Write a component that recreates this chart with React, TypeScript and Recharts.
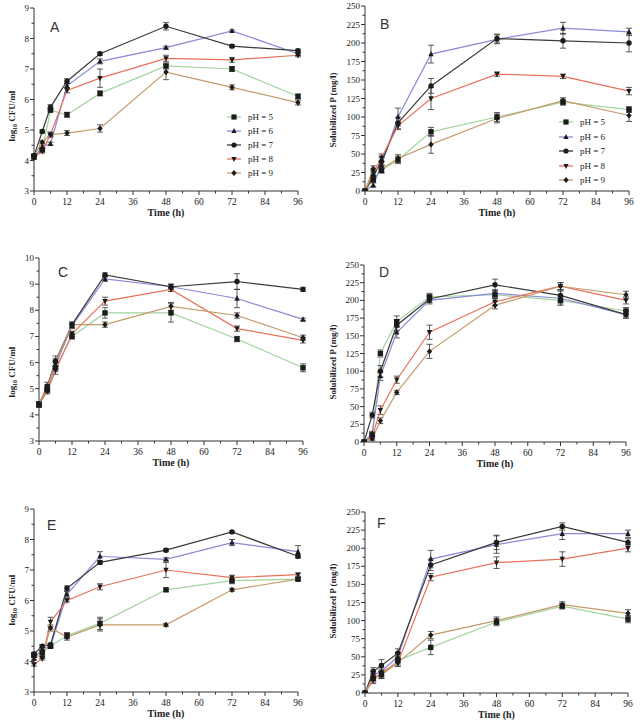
import React from 'react';
import { LineChart, Line, XAxis, YAxis, ErrorBar } from 'recharts';

// sampling times (h)
const hours = [0, 3, 6, 12, 24, 48, 72, 96];
const phLabels = ['pH = 5', 'pH = 6', 'pH = 7', 'pH = 8', 'pH = 9'];
const xTicks = [0, 6, 12, 18, 24, 30, 36, 42, 48, 54, 60, 66, 72, 78, 84, 90, 96];
const cfuTicks9 = [3, 3.5, 4, 4.5, 5, 5.5, 6, 6.5, 7, 7.5, 8, 8.5, 9];
const cfuTicks10 = [3, 3.5, 4, 4.5, 5, 5.5, 6, 6.5, 7, 7.5, 8, 8.5, 9, 9.5, 10];
const pTicks = [0, 12.5, 25, 37.5, 50, 62.5, 75, 87.5, 100, 112.5, 125, 137.5, 150, 162.5, 175, 187.5, 200, 212.5, 225, 237.5, 250];

// A - log10 CFU/ml
const a5 = [4.15, 4.35, 5.65, 5.5, 6.2, 7.1, 7.0, 6.1];
const a6 = [4.1, 4.45, 4.55, 6.45, 7.25, 7.7, 8.25, 7.5];
const a7 = [4.15, 4.95, 5.75, 6.6, 7.5, 8.4, 7.75, 7.6];
const a8 = [4.1, 4.3, 4.85, 6.3, 6.7, 7.35, 7.3, 7.45];
const a9 = [4.15, 4.6, 4.85, 4.9, 5.05, 6.9, 6.4, 5.9];
const ea5 = [0.05, 0.05, 0.05, 0.08, 0.08, 0.1, 0.08, 0.08];
const ea6 = [0.05, 0.05, 0.05, 0.08, 0.08, 0.05, 0.03, 0.05];
const ea7 = [0.05, 0.05, 0.08, 0.08, 0.05, 0.12, 0.05, 0.05];
const ea8 = [0.05, 0.05, 0.05, 0.08, 0.3, 0.1, 0.08, 0.05];
const ea9 = [0.05, 0.05, 0.08, 0.08, 0.12, 0.25, 0.08, 0.08];

// B - solubilized P (mg/l)
const b5 = [0, 15, 28, 42, 80, 100, 120, 110];
const b6 = [0, 8, 35, 100, 185, 205, 220, 215];
const b7 = [0, 20, 40, 92, 142, 206, 203, 200];
const b8 = [0, 25, 45, 88, 125, 158, 155, 135];
const b9 = [0, 30, 30, 44, 63, 98, 122, 102];
const eb5 = [0, 3, 4, 5, 6, 6, 4, 4];
const eb6 = [0, 3, 5, 12, 12, 6, 8, 5];
const eb7 = [0, 4, 5, 8, 10, 6, 10, 12];
const eb8 = [0, 4, 5, 5, 15, 3, 3, 5];
const eb9 = [0, 4, 5, 5, 12, 6, 4, 8];

// C - log10 CFU/ml
const c5 = [4.4, 4.95, 5.8, 7.0, 7.9, 7.9, 6.9, 5.8];
const c6 = [4.4, 5.0, 5.9, 7.4, 9.2, 8.9, 8.45, 7.65];
const c7 = [4.4, 5.1, 6.05, 7.45, 9.35, 8.9, 9.1, 8.8];
const c8 = [4.4, 4.9, 5.7, 7.1, 8.35, 8.8, 7.3, 6.85];
const c9 = [4.4, 5.05, 6.0, 7.45, 7.45, 8.15, 7.8, 6.95];
const ec5 = [0.1, 0.1, 0.15, 0.1, 0.2, 0.35, 0.1, 0.15];
const ec6 = [0.1, 0.1, 0.15, 0.1, 0.1, 0.1, 0.35, 0.05];
const ec7 = [0.1, 0.15, 0.2, 0.1, 0.08, 0.1, 0.3, 0.08];
const ec8 = [0.1, 0.1, 0.15, 0.1, 0.15, 0.08, 0.1, 0.1];
const ec9 = [0.1, 0.1, 0.15, 0.1, 0.1, 0.15, 0.1, 0.1];

// D - solubilized P (mg/l)
const d5 = [0, 10, 125, 170, 205, 208, 200, 185];
const d6 = [0, 12, 93, 155, 200, 210, 203, 180];
const d7 = [0, 38, 100, 165, 202, 222, 207, 180];
const d8 = [0, 8, 45, 88, 155, 198, 220, 200];
const d9 = [0, 5, 30, 70, 128, 193, 220, 208];
const ed5 = [0, 3, 5, 8, 5, 5, 5, 5];
const ed6 = [0, 3, 6, 8, 5, 5, 10, 5];
const ed7 = [0, 4, 8, 8, 5, 8, 8, 5];
const ed8 = [0, 4, 6, 5, 10, 5, 5, 5];
const ed9 = [0, 3, 4, 3, 10, 5, 5, 5];

// E - log10 CFU/ml
const e5 = [4.2, 4.3, 4.5, 4.85, 5.25, 6.35, 6.65, 6.7];
const e6 = [4.1, 4.4, 4.5, 6.2, 7.45, 7.35, 7.9, 7.6];
const e7 = [4.25, 4.5, 4.55, 6.4, 7.25, 7.65, 8.25, 7.45];
const e8 = [3.9, 4.1, 5.3, 6.0, 6.45, 7.0, 6.75, 6.85];
const e9 = [4.2, 4.15, 5.1, 4.8, 5.2, 5.2, 6.35, 6.7];
const ee5 = [0.05, 0.05, 0.05, 0.1, 0.2, 0.05, 0.1, 0.05];
const ee6 = [0.05, 0.05, 0.05, 0.1, 0.15, 0.05, 0.1, 0.2];
const ee7 = [0.05, 0.05, 0.05, 0.08, 0.05, 0.05, 0.03, 0.05];
const ee8 = [0.05, 0.05, 0.15, 0.05, 0.1, 0.25, 0.08, 0.05];
const ee9 = [0.05, 0.05, 0.1, 0.1, 0.2, 0.05, 0.05, 0.05];

// F - solubilized P (mg/l)
const f5 = [0, 20, 25, 45, 63, 98, 120, 102];
const f6 = [0, 25, 30, 50, 185, 205, 220, 220];
const f7 = [0, 30, 38, 55, 177, 208, 230, 208];
const f8 = [0, 18, 28, 42, 160, 180, 185, 200];
const f9 = [0, 22, 25, 42, 80, 100, 122, 110];
const ef5 = [0, 5, 5, 5, 10, 5, 4, 5];
const ef6 = [0, 5, 6, 6, 12, 12, 8, 5];
const ef7 = [0, 5, 8, 6, 8, 10, 5, 5];
const ef8 = [0, 5, 5, 5, 5, 8, 10, 5];
const ef9 = [0, 5, 5, 5, 5, 5, 4, 5];

const lineColors = ['#a3d49e', '#8a8ad8', '#3a3a3a', '#e8705a', '#c49a6a'];
const markerKinds = ['square', 'triangle', 'circle', 'down', 'diamond'];
const SERIF = '"Liberation Serif", "DejaVu Serif", serif';
const W = 322;
const H = 243;

function buildRows(series: number[][], errs: number[][]) {
  return hours.map((h, i) => {
    const row: any = { t: h };
    series.forEach((s, k) => {
      row['p' + k] = s[i];
      row['e' + k] = errs[k][i];
    });
    return row;
  });
}

function markerShape(kind: string, cx: number, cy: number, r = 2.7) {
  const fill = '#1c1c1c';
  if (kind === 'square') return <rect x={cx - r} y={cy - r} width={2 * r} height={2 * r} fill={fill} />;
  if (kind === 'triangle')
    return <polygon points={`${cx},${cy - r - 0.5} ${cx - r},${cy + r - 0.5} ${cx + r},${cy + r - 0.5}`} fill={fill} />;
  if (kind === 'down')
    return <polygon points={`${cx},${cy + r + 0.5} ${cx - r},${cy - r + 0.5} ${cx + r},${cy - r + 0.5}`} fill={fill} />;
  if (kind === 'diamond')
    return <polygon points={`${cx},${cy - r - 0.4} ${cx + r},${cy} ${cx},${cy + r + 0.4} ${cx - r},${cy}`} fill={fill} />;
  return <circle cx={cx} cy={cy} r={r} fill={fill} />;
}

const makeDot = (kind: string) => (props: any) => {
  const { cx, cy, index } = props;
  if (cx == null || cy == null) return <g key={index} />;
  return <g key={index}>{markerShape(kind, cx, cy)}</g>;
};

const XTick = (props: any) => {
  const { x, y, payload } = props;
  const major = payload.value % 12 === 0;
  return (
    <g>
      <line x1={x} y1={y} x2={x} y2={y + (major ? 4 : 2.5)} stroke="#333" strokeWidth={1} />
      {major && (
        <text x={x} y={y + 14} textAnchor="middle" fontSize={9.5} fontFamily={SERIF} fill="#222">
          {payload.value}
        </text>
      )}
    </g>
  );
};

const makeYTick = (step: number) => (props: any) => {
  const { x, y, payload } = props;
  const major = Math.abs(payload.value / step - Math.round(payload.value / step)) < 1e-6;
  return (
    <g>
      <line x1={x} y1={y} x2={x - (major ? 4 : 2.5)} y2={y} stroke="#333" strokeWidth={1} />
      {major && (
        <text x={x - 5} y={y + 3} textAnchor="end" fontSize={9} fontFamily={SERIF} fill="#222">
          {payload.value}
        </text>
      )}
    </g>
  );
};

interface PanelCfg {
  letter: string;
  left: number;
  top: number;
  plotL: number;
  plotR: number;
  plotT: number;
  plotB: number;
  yDomain: [number, number];
  yTicks: number[];
  yStep: number;
  cfu: boolean;
  yLabelX: number;
  yLabelY: number;
  letterX: number;
  letterY: number;
  series: number[][];
  errs: number[][];
  legend?: { x: number; y: number; step: number };
}

const panels: PanelCfg[] = [
  { letter: 'A', left: 0, top: 0, plotL: 34, plotR: 298, plotT: 8, plotB: 191, yDomain: [3, 9], yTicks: cfuTicks9, yStep: 1, cfu: true,
    yLabelX: 15, yLabelY: 116, letterX: 50, letterY: 27, series: [a5, a6, a7, a8, a9], errs: [ea5, ea6, ea7, ea8, ea9],
    legend: { x: 226, y: 117, step: 14 } },
  { letter: 'B', left: 322, top: 0, plotL: 43, plotR: 307, plotT: 6, plotB: 191, yDomain: [0, 250], yTicks: pTicks, yStep: 25, cfu: false,
    yLabelX: 14, yLabelY: 110, letterX: 58, letterY: 24, series: [b5, b6, b7, b8, b9], errs: [eb5, eb6, eb7, eb8, eb9],
    legend: { x: 236, y: 122, step: 14.5 } },
  { letter: 'C', left: 0, top: 240, plotL: 39, plotR: 303, plotT: 18, plotB: 201, yDomain: [3, 10], yTicks: cfuTicks10, yStep: 1, cfu: true,
    yLabelX: 15, yLabelY: 132, letterX: 58, letterY: 32, series: [c5, c6, c7, c8, c9], errs: [ec5, ec6, ec7, ec8, ec9] },
  { letter: 'D', left: 322, top: 240, plotL: 42, plotR: 304, plotT: 25, plotB: 202, yDomain: [0, 250], yTicks: pTicks, yStep: 25, cfu: false,
    yLabelX: 14, yLabelY: 122, letterX: 57, letterY: 32, series: [d5, d6, d7, d8, d9], errs: [ed5, ed6, ed7, ed8, ed9] },
  { letter: 'E', left: 0, top: 480, plotL: 34, plotR: 298, plotT: 29, plotB: 212, yDomain: [3, 9], yTicks: cfuTicks9, yStep: 1, cfu: true,
    yLabelX: 15, yLabelY: 120, letterX: 47, letterY: 45, series: [e5, e6, e7, e8, e9], errs: [ee5, ee6, ee7, ee8, ee9] },
  { letter: 'F', left: 322, top: 480, plotL: 43, plotR: 306, plotT: 32, plotB: 213, yDomain: [0, 250], yTicks: pTicks, yStep: 25, cfu: false,
    yLabelX: 14, yLabelY: 121, letterX: 55, letterY: 43, series: [f5, f6, f7, f8, f9], errs: [ef5, ef6, ef7, ef8, ef9] },
];

function Panel({ cfg }: { cfg: PanelCfg }) {
  const rows = buildRows(cfg.series, cfg.errs);
  const xAxisH = 28;
  const yLabel = () => (
    <text
      x={cfg.yLabelX}
      y={cfg.yLabelY}
      transform={`rotate(-90 ${cfg.yLabelX} ${cfg.yLabelY})`}
      textAnchor="middle"
      fontSize={9}
      fontWeight="bold"
      fontFamily={SERIF}
      fill="#222"
    >
      {cfg.cfu ? (
        <>
          <tspan>log</tspan>
          <tspan fontSize={6} dy={2}>10</tspan>
          <tspan dy={-2}> CFU/ml</tspan>
        </>
      ) : (
        'Solubilized P (mg/l)'
      )}
    </text>
  );
  const xLabel = () => (
    <text
      x={(cfg.plotL + cfg.plotR) / 2}
      y={cfg.plotB + 25}
      textAnchor="middle"
      fontSize={10}
      fontWeight="bold"
      fontFamily={SERIF}
      fill="#222"
    >
      Time (h)
    </text>
  );
  return (
    <div style={{ position: 'absolute', left: cfg.left, top: cfg.top, width: W, height: H }}>
      <LineChart
        width={W}
        height={H}
        data={rows}
        margin={{ top: cfg.plotT, right: W - cfg.plotR, bottom: H - cfg.plotB - xAxisH, left: 0 }}
      >
        <XAxis
          dataKey="t"
          type="number"
          domain={[0, 96]}
          ticks={xTicks}
          interval={0}
          height={xAxisH}
          tickSize={0}
          tickMargin={0}
          tickLine={false}
          axisLine={{ stroke: '#333', strokeWidth: 1 }}
          tick={<XTick />}
          label={xLabel}
        />
        <YAxis
          type="number"
          domain={cfg.yDomain}
          ticks={cfg.yTicks}
          interval={0}
          width={cfg.plotL}
          tickSize={0}
          tickMargin={0}
          tickLine={false}
          axisLine={{ stroke: '#333', strokeWidth: 1 }}
          tick={makeYTick(cfg.yStep)}
          label={yLabel}
          allowDataOverflow
        />
        {cfg.series.map((_, k) => (
          <Line
            key={k}
            dataKey={'p' + k}
            stroke={lineColors[k]}
            strokeWidth={1.2}
            dot={makeDot(markerKinds[k])}
            activeDot={false}
            isAnimationActive={false}
          >
            <ErrorBar dataKey={'e' + k} width={3} stroke="#333" strokeWidth={0.8} direction="y" />
          </Line>
        ))}
      </LineChart>
      <div
        style={{
          position: 'absolute',
          left: cfg.letterX,
          top: cfg.letterY - 9,
          fontFamily: '"Liberation Sans", Arial, sans-serif',
          fontSize: 14,
          color: '#333',
          lineHeight: '18px',
        }}
      >
        {cfg.letter}
      </div>
      {cfg.legend &&
        phLabels.map((lab, k) => (
          <div
            key={lab}
            style={{
              position: 'absolute',
              left: cfg.legend!.x,
              top: cfg.legend!.y + k * cfg.legend!.step - 6,
              height: 12,
              display: 'flex',
              alignItems: 'center',
              fontFamily: SERIF,
              fontSize: 9,
              color: '#222',
              whiteSpace: 'nowrap',
            }}
          >
            <svg width={16} height={12} style={{ display: 'block' }}>
              <line x1={1} y1={6} x2={15} y2={6} stroke={lineColors[k]} strokeWidth={1.3} />
              {markerShape(markerKinds[k], 8, 6, 2.6)}
            </svg>
            <span style={{ marginLeft: 6 }}>{lab}</span>
          </div>
        ))}
    </div>
  );
}

export default function App() {
  return (
    <div style={{ position: 'absolute', left: 0, top: 0, width: 644, height: 723, background: '#fff' }}>
      {panels.map((p) => (
        <Panel key={p.letter} cfg={p} />
      ))}
    </div>
  );
}
